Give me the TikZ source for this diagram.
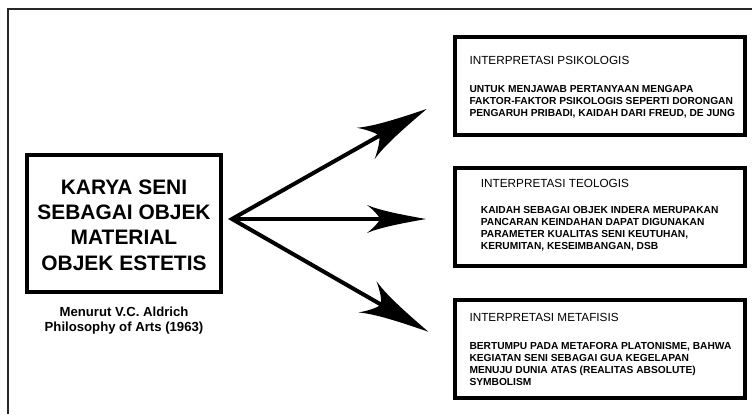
\documentclass[tikz,border=0pt]{standalone}
\usepackage{fontspec}
\setmainfont{Liberation Sans}
\usetikzlibrary{arrows.meta}

% Swept-back arrow head with slightly concave flanks
\pgfdeclarearrow{
  name = Swept,
  defaults = {length = 70bp, width = 36bp},
  parameters = {\the\pgfarrowlength,\the\pgfarrowwidth},
  setup code = {
    \pgfarrowssettipend{0pt}
    \pgfarrowssetbackend{-\pgfarrowlength}
    \pgfarrowssetvisualbackend{-0.78\pgfarrowlength}
    \pgfarrowssetlineend{-0.7\pgfarrowlength}
    \pgfarrowshullpoint{0pt}{0pt}
    \pgfarrowshullpoint{-\pgfarrowlength}{0.5\pgfarrowwidth}
    \pgfarrowshullpoint{-\pgfarrowlength}{-0.5\pgfarrowwidth}
    \pgfarrowssavethe\pgfarrowlength
    \pgfarrowssavethe\pgfarrowwidth
  },
  drawing code = {
    \pgfpathmoveto{\pgfpointorigin}
    \pgfpathcurveto{\pgfpoint{-0.4\pgfarrowlength}{0.15\pgfarrowwidth}}%
                   {\pgfpoint{-0.78\pgfarrowlength}{0.3\pgfarrowwidth}}%
                   {\pgfpoint{-\pgfarrowlength}{0.5\pgfarrowwidth}}
    \pgfpathcurveto{\pgfpoint{-0.88\pgfarrowlength}{0.3\pgfarrowwidth}}%
                   {\pgfpoint{-0.8\pgfarrowlength}{0.12\pgfarrowwidth}}%
                   {\pgfpoint{-0.78\pgfarrowlength}{0pt}}
    \pgfpathcurveto{\pgfpoint{-0.8\pgfarrowlength}{-0.12\pgfarrowwidth}}%
                   {\pgfpoint{-0.88\pgfarrowlength}{-0.3\pgfarrowwidth}}%
                   {\pgfpoint{-\pgfarrowlength}{-0.5\pgfarrowwidth}}
    \pgfpathcurveto{\pgfpoint{-0.78\pgfarrowlength}{-0.3\pgfarrowwidth}}%
                   {\pgfpoint{-0.4\pgfarrowlength}{-0.15\pgfarrowwidth}}%
                   {\pgfpointorigin}
    \pgfpathclose
    \pgfusepathqfill
  }
}

\tikzset{
  frameline/.style={line width=1.8bp, draw=black!85},
  mainbox/.style={draw, line width=4bp, minimum width=194bp, minimum height=136.7bp, inner sep=0pt},
  infobox/.style={draw, line width=4bp, minimum width=290.3bp, minimum height=98bp, inner sep=0pt},
  boxtitle/.style={anchor=base west, inner sep=0pt, font=\fontsize{11.8}{14}\selectfont},
  boxbody/.style={anchor=base west, inner sep=0pt, font=\fontsize{10.25}{12.2}\selectfont\bfseries},
  bigtext/.style={anchor=base, inner sep=0pt, font=\fontsize{21}{25.5}\selectfont\bfseries},
  captiontext/.style={anchor=base, inner sep=0pt, font=\fontsize{13.2}{15.6}\selectfont\bfseries},
  flow/.style={line width=4bp, line join=miter},
}

\begin{document}
\begin{tikzpicture}[x=1bp,y=-1bp]
  \useasboundingbox (0,0) rectangle (752,414);
  \fill[white] (0,0) rectangle (752,414);

  % outer frame (top and left edges)
  \draw[frameline] (752,9.3) -- (8,9.3) -- (8,414);

  % central box
  \node[mainbox] (karya) at (124,223.7) {};
  \node[bigtext] (karyatext) at (124,194)
    {\begin{tabular}[t]{@{}c@{}}KARYA SENI\\SEBAGAI OBJEK\\MATERIAL\\OBJEK ESTETIS\end{tabular}};
  \node[captiontext] (source) at (124,316.4)
    {\begin{tabular}[t]{@{}c@{}}Menurut V.C. Aldrich\\Philosophy of Arts (1963)\end{tabular}};

  % interpretation boxes
  \node[infobox] (psiko) at (599.85,86) {};
  \node[boxtitle] (psikotitle) at (469.3,64.3) {INTERPRETASI PSIKOLOGIS};
  \node[boxbody] (psikobody) at (469.3,92.3)
    {\begin{tabular}[t]{@{}l@{}}UNTUK MENJAWAB PERTANYAAN MENGAPA\\
      FAKTOR-FAKTOR PSIKOLOGIS SEPERTI DORONGAN\\
      PENGARUH PRIBADI, KAIDAH DARI FREUD, DE JUNG\end{tabular}};

  \node[infobox] (teo) at (599.85,216.5) {};
  \node[boxtitle] (teotitle) at (480.7,187.5) {INTERPRETASI TEOLOGIS};
  \node[boxbody] (teobody) at (480.7,213)
    {\begin{tabular}[t]{@{}l@{}}KAIDAH SEBAGAI OBJEK INDERA MERUPAKAN\\
      PANCARAN KEINDAHAN DAPAT DIGUNAKAN\\
      PARAMETER KUALITAS SENI KEUTUHAN,\\
      KERUMITAN, KESEIMBANGAN, DSB\end{tabular}};

  \node[infobox] (meta) at (599.85,348.5) {};
  \node[boxtitle] (metatitle) at (469.3,321.5) {INTERPRETASI METAFISIS};
  \node[boxbody] (metabody) at (469.3,349)
    {\begin{tabular}[t]{@{}l@{}}BERTUMPU PADA METAFORA PLATONISME, BAHWA\\
      KEGIATAN SENI SEBAGAI GUA KEGELAPAN\\
      MENUJU DUNIA ATAS (REALITAS ABSOLUTE)\\
      SYMBOLISM\end{tabular}};

  % arrows fanning out from the central box
  \coordinate (fork) at (232,219);
  \coordinate (tippsiko) at (426.7,109);
  \coordinate (tipteo) at (426,219);
  \coordinate (tipmeta) at (428.3,331.7);

  \draw[flow, {Swept[length=70bp,width=36bp]}-{Swept[length=70bp,width=36bp]}]
    (tippsiko) -- (fork) -- (tipmeta);
  \draw[flow, -{Swept[length=59bp,width=28bp]}] (fork) -- (tipteo);
\end{tikzpicture}
\end{document}
